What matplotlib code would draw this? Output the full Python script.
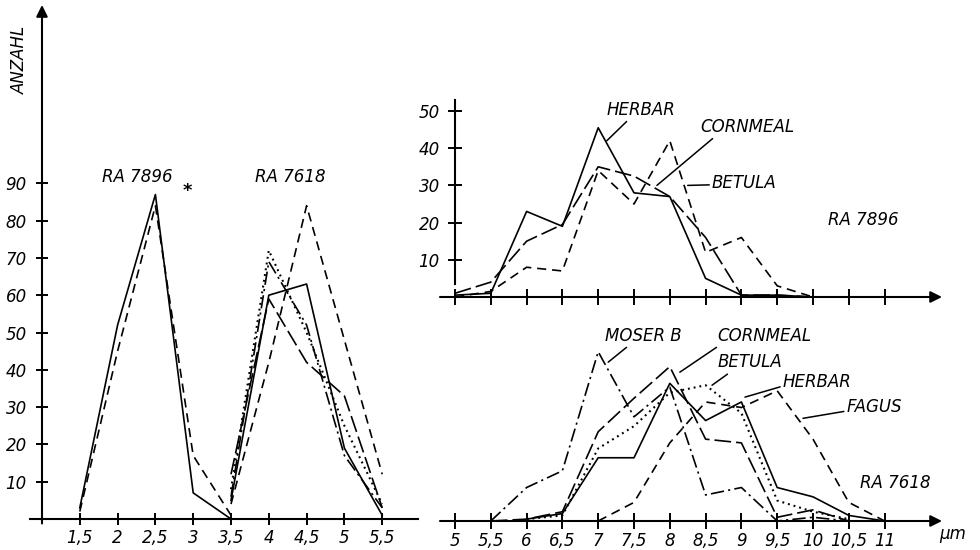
import numpy as np
import matplotlib
matplotlib.use("Agg")
import matplotlib.pyplot as plt

plt.rcParams['font.family'] = ['DejaVu Sans']
plt.rcParams['font.style'] = 'italic'
plt.rcParams['font.size'] = 12

# ---------------- data ----------------
# Left panel: width distribution (ANZAHL vs width)
left_x_7896 = [1.5, 2, 2.5, 3, 3.5]
left_7896_solid = [3, 52, 87, 7, 0]
left_7896_dashed = [2, 45, 84, 17, 1]

left_x_7618 = [3.5, 4, 4.5, 5, 5.5]
left_7618_herbar = [5, 60, 63, 19, 1]
left_7618_cornmeal = [12, 59, 42, 33, 3]
left_7618_betula = [8, 72, 50, 25, 4]
left_7618_moser = [6, 69, 52, 17, 3]
left_7618_fagus = [4, 42, 84, 48, 12]

left_xticks = [1.5, 2, 2.5, 3, 3.5, 4, 4.5, 5, 5.5]
left_yticks = [10, 20, 30, 40, 50, 60, 70, 80, 90]

# Top right: RA 7896 length distribution
tr_x = [5, 5.5, 6, 6.5, 7, 7.5, 8, 8.5, 9, 9.5, 10]
tr_herbar = [0.5, 1, 23, 19, 45.5, 28, 27, 5, 0.5, 0.5, 0]
tr_cornmeal = [1, 4, 15, 19.5, 35, 32.5, 27, 16, 0.5, 0.5, 0]
tr_betula = [0, 1.5, 8, 7, 34, 25, 42, 12, 16, 3, 0]
tr_yticks = [10, 20, 30, 40, 50]

# Bottom right: RA 7618 length distribution
br_x_herbar = [6, 6.5, 7, 7.5, 8, 8.5, 9, 9.5, 10, 10.5, 11]
br_herbar = [0.5, 2, 17, 17, 37, 27, 32, 9, 6.5, 1.5, 0]
br_x_betula = [6, 6.5, 7, 7.5, 8, 8.5, 9, 9.5, 10, 10.5]
br_betula = [0.5, 1.5, 19.5, 25.5, 34.5, 36.5, 29, 5.5, 2.5, 0.5]
br_x_cornmeal = [5.5, 6, 6.5, 7, 7.5, 8, 8.5, 9, 9.5, 10, 10.5]
br_cornmeal = [0, 0.5, 2.5, 24, 33, 41.5, 22, 21, 1, 3, 0]
br_x_moser = [5.5, 6, 6.5, 7, 7.5, 8, 8.5, 9, 9.5, 10, 10.5]
br_moser = [0, 9, 13.5, 45.5, 28, 36, 7, 9, 0, 1, 0]
br_x_fagus = [7, 7.5, 8, 8.5, 9, 9.5, 10, 10.5, 11]
br_fagus = [0, 5, 21, 32, 30.5, 35, 22, 5, 0]

right_xticks = [5, 5.5, 6, 6.5, 7, 7.5, 8, 8.5, 9, 9.5, 10, 10.5, 11]

# ---------------- styles ----------------
LW = 1.2
ST_SOLID = dict(color='k', lw=LW, linestyle='-')
ST_DASH = dict(color='k', lw=LW, linestyle=(0, (5.5, 3.5)))
ST_LONG = dict(color='k', lw=LW, linestyle=(0, (10, 3)))
ST_DASHDOT = dict(color='k', lw=LW, linestyle=(0, (8, 2.5, 1.3, 2.5)))
ST_DOT = dict(color='k', lw=1.5, linestyle=(0, (0.9, 1.9)))

W, H = 980, 550
fig = plt.figure(figsize=(W / 100, H / 100), dpi=100)
fig.patch.set_facecolor('white')


def px_axes(x0, ytop, x1, ybot):
    return fig.add_axes([x0 / W, 1 - ybot / H, (x1 - x0) / W, (ybot - ytop) / H])


def fmt(v):
    return ('%g' % v).replace('.', ',')


def setup(ax, length):
    for s in ax.spines.values():
        s.set_visible(False)
    ax.patch.set_alpha(0)
    ax.tick_params(direction='inout', length=length, width=1.4, colors='k',
                   labelsize=12)


AX_LW = 1.5
ARROW = dict(arrowstyle='-|>', lw=AX_LW, color='k', mutation_scale=17,
             shrinkA=0, shrinkB=0)

# ---------------- left panel ----------------
ax1 = px_axes(42, 5, 420, 519)
ax1.set_xlim(1.0, 6.0)
ax1.set_ylim(0, 514 / 3.73)
setup(ax1, 8)
ax1.plot([0.84, 5.97], [0, 0], color='k', lw=AX_LW, clip_on=False)
ax1.annotate('', xy=(1.0, 514 / 3.73), xytext=(1.0, -1.2),
             arrowprops=ARROW, annotation_clip=False)
ax1.set_xticks(left_xticks)
ax1.set_xticklabels([fmt(v) for v in left_xticks])
ax1.set_yticks(left_yticks)
ax1.set_yticklabels([fmt(v) for v in left_yticks])
ax1.tick_params(axis='y', pad=7)
ax1.tick_params(axis='x', pad=3)

ax1.plot(left_x_7896, left_7896_solid, clip_on=False, **ST_SOLID)
ax1.plot(left_x_7896, left_7896_dashed, clip_on=False, **ST_DASH)
ax1.plot(left_x_7618, left_7618_herbar, clip_on=False, **ST_SOLID)
ax1.plot(left_x_7618, left_7618_cornmeal, clip_on=False, **ST_LONG)
ax1.plot(left_x_7618, left_7618_betula, clip_on=False, **ST_DOT)
ax1.plot(left_x_7618, left_7618_moser, clip_on=False, **ST_DASHDOT)
ax1.plot(left_x_7618, left_7618_fagus, clip_on=False, **ST_DASH)

ax1.text(1.79, 90.3, 'RA 7896', ha='left', va='baseline', fontsize=12)
ax1.text(2.92, 86.5, '*', ha='center', va='baseline', fontsize=13, fontweight='bold')
ax1.text(3.82, 90.3, 'RA 7618', ha='left', va='baseline', fontsize=12)
ax1.text(0.71, 123, 'ANZAHL', rotation=90, ha='center', va='center', fontsize=12,
         clip_on=False)

# ---------------- top right ----------------
XS = 71.6
x_right_max = 5 + (945 - 455) / XS
ax2 = px_axes(455, 100, 945, 297)
ax2.set_xlim(5, x_right_max)
ax2.set_ylim(0, 197 / 3.72)
setup(ax2, 12)
ax2.annotate('', xy=(5 + (942 - 455) / XS, 0), xytext=(5 + (440 - 455) / XS, 0),
             arrowprops=ARROW, annotation_clip=False)
ax2.plot([5, 5], [3.5, 197 / 3.72], color='k', lw=AX_LW, clip_on=False)
ax2.set_xticks(right_xticks)
ax2.set_xticklabels([])
ax2.set_yticks(tr_yticks)
ax2.set_yticklabels([fmt(v) for v in tr_yticks])
ax2.tick_params(axis='y', pad=6, length=10)

ax2.plot(tr_x, tr_herbar, clip_on=False, **ST_SOLID)
ax2.plot(tr_x, tr_cornmeal, clip_on=False, **ST_LONG)
ax2.plot(tr_x, tr_betula, clip_on=False, **ST_DASH)

lead = dict(arrowstyle='-', lw=1.1, color='k', shrinkA=0, shrinkB=0)
ax2.annotate('HERBAR', xy=(7.12, 42.0), xytext=(7.12, 49.0), ha='left', va='baseline',
             arrowprops=dict(lead, relpos=(0.33, 0.0)), annotation_clip=False)
ax2.annotate('CORNMEAL', xy=(7.82, 30.0), xytext=(8.42, 44.4), ha='left', va='baseline',
             arrowprops=dict(lead, relpos=(0.17, 0.0)), annotation_clip=False)
ax2.annotate('BETULA', xy=(8.25, 30.0), xytext=(8.59, 29.3), ha='left', va='baseline',
             arrowprops=dict(lead, relpos=(0.0, 0.4)), annotation_clip=False)
ax2.text(10.21, 19.4, 'RA 7896', ha='left', va='baseline', fontsize=12)

# ---------------- bottom right ----------------
ax3 = px_axes(455, 300, 945, 521)
ax3.set_xlim(5, x_right_max)
ax3.set_ylim(0, 221 / 3.72)
setup(ax3, 12)
ax3.annotate('', xy=(5 + (942 - 455) / XS, 0), xytext=(5 + (440 - 455) / XS, 0),
             arrowprops=ARROW, annotation_clip=False)
ax3.set_xticks(right_xticks)
ax3.set_xticklabels([fmt(v) for v in right_xticks])
ax3.tick_params(axis='x', pad=2)
ax3.tick_params(axis='y', left=False, labelleft=False)

ax3.plot(br_x_herbar, br_herbar, clip_on=False, **ST_SOLID)
ax3.plot(br_x_betula, br_betula, clip_on=False, **ST_DOT)
ax3.plot(br_x_cornmeal, br_cornmeal, clip_on=False, **ST_LONG)
ax3.plot(br_x_moser, br_moser, clip_on=False, **ST_DASHDOT)
ax3.plot(br_x_fagus, br_fagus, clip_on=False, **ST_DASH)

ax3.annotate('MOSER B', xy=(7.14, 42.7), xytext=(7.09, 48.5), ha='left', va='baseline',
             arrowprops=dict(lead, relpos=(0.33, 0.0)), annotation_clip=False)
ax3.annotate('CORNMEAL', xy=(8.14, 40.0), xytext=(8.67, 48.5), ha='left', va='baseline',
             arrowprops=dict(lead, relpos=(0.03, 0.0)), annotation_clip=False)
ax3.annotate('BETULA', xy=(8.59, 36.5), xytext=(8.66, 41.3), ha='left', va='baseline',
             arrowprops=dict(lead, relpos=(0.22, 0.0)), annotation_clip=False)
ax3.annotate('HERBAR', xy=(9.05, 33.3), xytext=(9.58, 35.9), ha='left', va='baseline',
             arrowprops=dict(lead, relpos=(0.0, 0.3)), annotation_clip=False)
ax3.annotate('FAGUS', xy=(9.86, 27.6), xytext=(10.47, 29.2), ha='left', va='baseline',
             arrowprops=dict(lead, relpos=(0.0, 0.3)), annotation_clip=False)
ax3.text(10.66, 8.8, 'RA 7618', ha='left', va='baseline', fontsize=12)
ax3.text(11.95, -1.0, 'µm', ha='center', va='top', fontsize=12, clip_on=False)

fig.savefig('out.png', dpi=100, facecolor='white')
